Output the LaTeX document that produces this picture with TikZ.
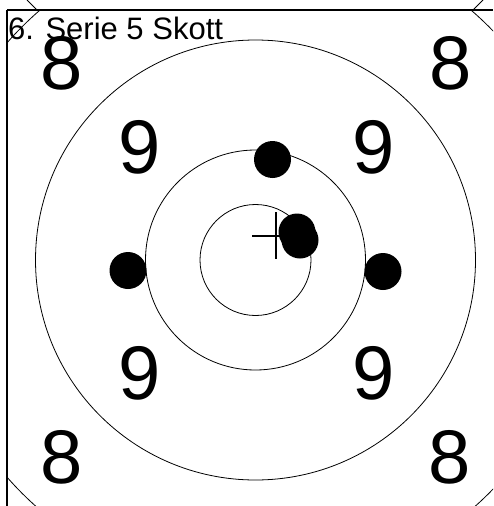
\documentclass[tikz,border=0pt]{standalone}
\usepackage{fontspec}
\setmainfont{Liberation Sans}
\usepackage{tikz}
\usetikzlibrary{positioning}

\begin{document}
\begin{tikzpicture}[
  x=1pt, y=-1pt,
  ring/.style={draw, line width=0.8pt},
  frameline/.style={draw, line width=1.4pt},
  shot/.style={fill=black},
  num/.style={font=\fontsize{76}{76}\selectfont, inner sep=0pt},
  title/.style={font=\fontsize{31}{31}\selectfont, inner sep=0pt, anchor=base west}
]
\useasboundingbox (0,0) rectangle (493,506);

%% ── FRAME ───────────────────────────────────────────────────────
\draw[frameline] (7,10) -- (493,10);
\draw[frameline] (7,10) -- (7,506);
\draw[line width=0.8pt] (27,0) -- (37,10);
\draw[line width=0.8pt] (473,10) -- (483,0);

%% ── RINGS ───────────────────────────────────────────────────────
\coordinate (centre) at (255.5,260);
\begin{scope}
  \clip (7,10) rectangle (493,506);
  \draw[ring] (centre) circle[radius=330pt];
\end{scope}
\draw[ring] (centre) circle[radius=220pt];
\draw[ring] (centre) circle[radius=110pt];
\draw[ring] (centre) circle[radius=55.5pt];

%% ── RING NUMBERS ────────────────────────────────────────────────
\node[num] (eightTL) at (61.5,63)  {8};
\node[num] (eightTR) at (451,63)   {8};
\node[num] (eightBL) at (61.5,457) {8};
\node[num] (eightBR) at (450,457)  {8};
\node[num] (nineTL)  at (140,147)  {9};
\node[num] (nineTR)  at (373.5,147) {9};
\node[num] (nineBL)  at (140,373)  {9};
\node[num] (nineBR)  at (373.5,373) {9};

%% ── TITLE ───────────────────────────────────────────────────────
\node[title] (serie) at (8,39) {6. Serie 5 Skott};

%% ── MEAN POINT OF IMPACT ────────────────────────────────────────
\coordinate (mpi) at (275.7,235.7);
\draw[line width=1.8pt] (252,235.7) -- (299.4,235.7);
\draw[line width=1.8pt] (275.7,212) -- (275.7,259.4);

%% ── SHOTS ───────────────────────────────────────────────────────
\fill[shot] (272.5,159.5) circle[radius=18.5pt];
\fill[shot] (128,270.5)   circle[radius=18.5pt];
\fill[shot] (383,271.5)   circle[radius=18.5pt];
\fill[shot] (297,232)     circle[radius=18.5pt];
\fill[shot] (300,240)     circle[radius=18.5pt];

\end{tikzpicture}
\end{document}
